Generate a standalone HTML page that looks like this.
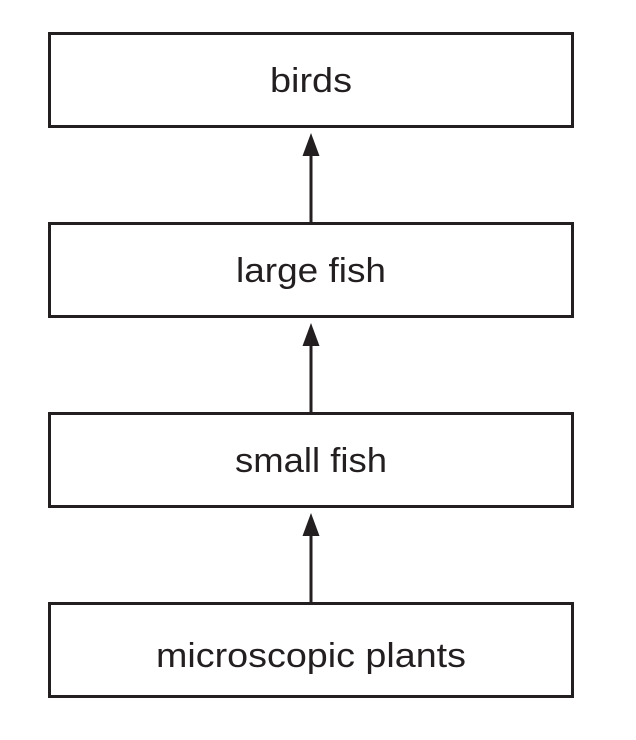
<!DOCTYPE html>
<html><head><style>html,body{margin:0;padding:0;background:#fff}</style></head>
<body>
<svg width="636" height="735" viewBox="0 0 636 735" xmlns="http://www.w3.org/2000/svg">
<g fill="none" stroke="#231f20" stroke-width="3">
<rect x="49.5" y="33.5" width="523" height="93"/>
<rect x="49.5" y="223.5" width="523" height="93"/>
<rect x="49.5" y="413.5" width="523" height="93"/>
<rect x="49.5" y="603.5" width="523" height="93"/>
<line x1="311" y1="222" x2="311" y2="150"/>
<line x1="311" y1="412" x2="311" y2="340"/>
<line x1="311" y1="602" x2="311" y2="530"/>
</g>
<g fill="#231f20">
<polygon points="311,133 302.5,156 319.5,156"/>
<polygon points="311,323 302.5,346 319.5,346"/>
<polygon points="311,513 302.5,536 319.5,536"/>
</g>
<g font-family="Liberation Sans, sans-serif" font-size="34" fill="#231f20" text-anchor="middle">
<text x="311" y="92" textLength="82" lengthAdjust="spacingAndGlyphs">birds</text>
<text x="311" y="282" textLength="150" lengthAdjust="spacingAndGlyphs">large fish</text>
<text x="311" y="472" textLength="152" lengthAdjust="spacingAndGlyphs">small fish</text>
<text x="311" y="667" textLength="310" lengthAdjust="spacingAndGlyphs">microscopic plants</text>
</g>
</svg>
</body></html>
